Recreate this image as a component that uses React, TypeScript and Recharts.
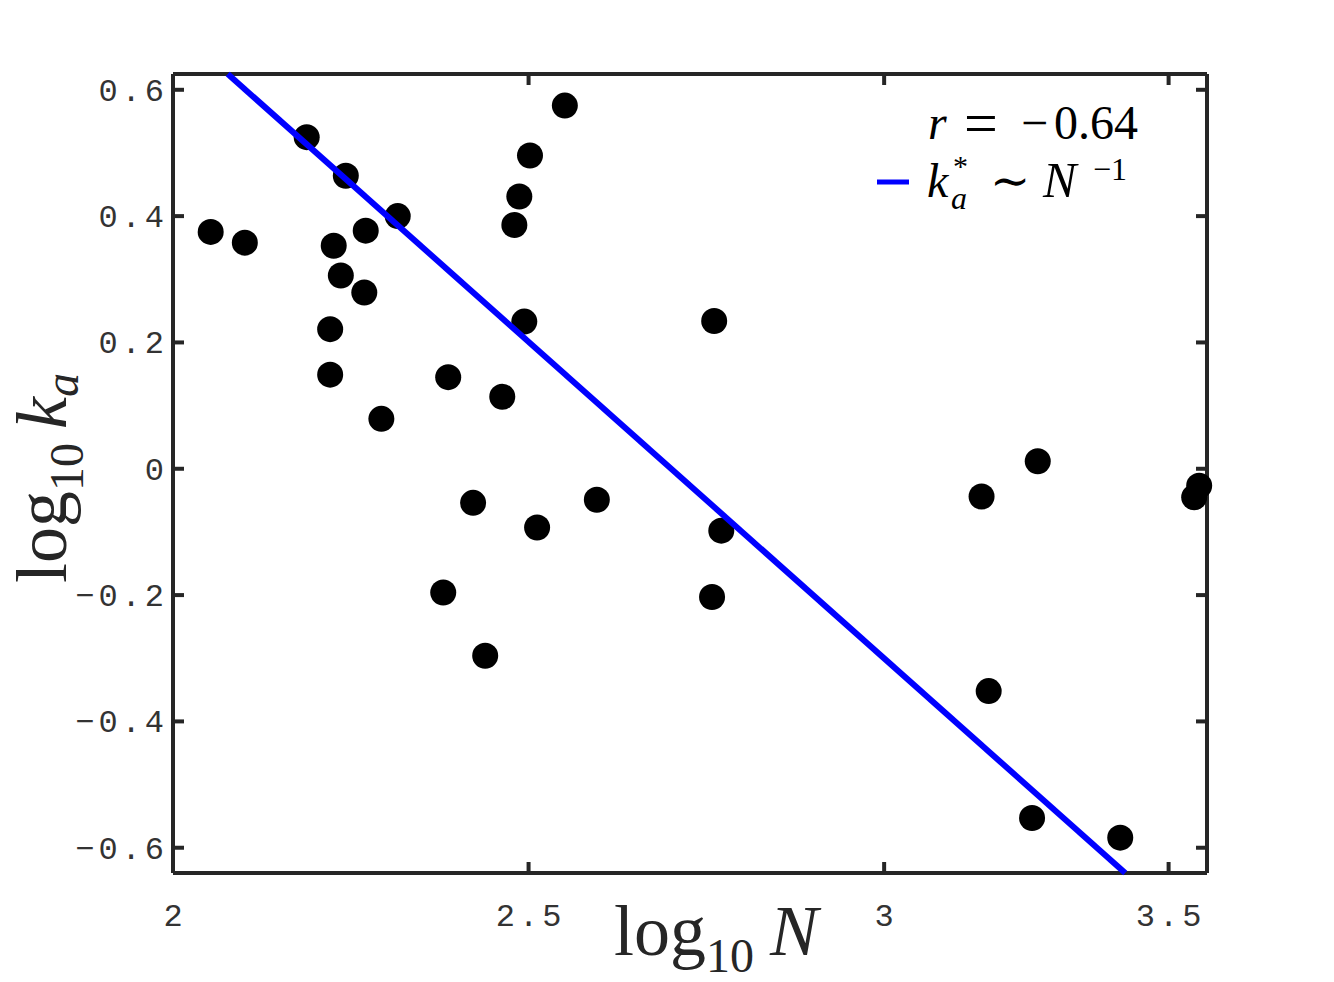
import React from 'react';
import { ScatterChart, Scatter, XAxis, YAxis } from 'recharts';

const logN = [
  2.053, 2.101, 2.188, 2.243, 2.316, 2.271, 2.226, 2.236, 2.269, 2.221, 2.221, 2.293,
  2.387, 2.380, 2.422, 2.439, 2.463, 2.480, 2.487, 2.502, 2.494, 2.512, 2.551, 2.596,
  2.761, 2.758, 2.771, 3.137, 3.147, 3.216, 3.208, 3.332, 3.436, 3.443,
];
const logKa = [
  0.375, 0.358, 0.525, 0.464, 0.400, 0.377, 0.353, 0.306, 0.279, 0.221, 0.149, 0.079,
  0.145, -0.196, -0.054, -0.296, 0.114, 0.386, 0.431, 0.496, 0.233, -0.093, 0.575, -0.049,
  0.234, -0.203, -0.098, -0.044, -0.352, 0.012, -0.553, -0.584, -0.045, -0.027,
];
const fitN = [2.077, 3.339];
const fitKa = [0.625, -0.64];

const xTickValues = [2, 2.5, 3, 3.4];
const xTickLabels = ['2', '2.5', '3', '3.5'];
const yTickValues = [-0.6, -0.4, -0.2, 0, 0.2, 0.4, 0.6];
const yTickLabels = ['\u22120.6', '\u22120.4', '\u22120.2', '0', '0.2', '0.4', '0.6'];

const xDomain = [2, 3.454];
const yDomain = [-0.64, 0.625];

const points = logN.map((x, i) => ({ x, y: logKa[i] }));
const fitLine = fitN.map((x, i) => ({ x, y: fitKa[i] }));

const AX = '#262626';
const TICK_FONT = "'Liberation Mono', monospace";
const SERIF = "'Liberation Serif', 'DejaVu Serif', serif";

const BottomTick = (p: any) => {
  const { x, y, payload } = p;
  const idx = xTickValues.indexOf(payload.value);
  return (
    <g>
      <line x1={x} x2={x} y1={y} y2={y - 11} stroke={AX} strokeWidth={4} />
      <text x={x + 2} y={y + 53} textAnchor="middle" fontFamily={TICK_FONT} fontSize={32}
        letterSpacing={4} fill="#333">{xTickLabels[idx]}</text>
    </g>
  );
};
const TopTick = (p: any) => {
  const { x, y } = p;
  return <line x1={x} x2={x} y1={y} y2={y + 11} stroke={AX} strokeWidth={4} />;
};
const LeftTick = (p: any) => {
  const { x, y, payload } = p;
  const idx = yTickValues.findIndex((v) => Math.abs(v - payload.value) < 1e-9);
  return (
    <g>
      <line x1={x} x2={x + 11} y1={y} y2={y} stroke={AX} strokeWidth={4} />
      <text x={x - 5} y={y + 11} textAnchor="end" fontFamily={TICK_FONT} fontSize={32}
        letterSpacing={4} fill="#333">{yTickLabels[idx]}</text>
    </g>
  );
};
const RightTick = (p: any) => {
  const { x, y } = p;
  return <line x1={x} x2={x - 11} y1={y} y2={y} stroke={AX} strokeWidth={4} />;
};

export default function App() {
  return (
    <div style={{ position: 'absolute', left: 0, top: 0, width: 1334, height: 982, background: '#fff' }}>
      <ScatterChart width={1334} height={982} margin={{ top: 73, right: 126, bottom: 0, left: 0 }}>
        <XAxis xAxisId="b" orientation="bottom" dataKey="x" type="number" domain={xDomain} ticks={xTickValues}
          height={109} tickSize={0} tickMargin={0} tickLine={false}
          axisLine={{ stroke: AX, strokeWidth: 4 }} tick={<BottomTick />} interval={0} />
        <XAxis xAxisId="t" orientation="top" dataKey="x" type="number" domain={xDomain}
          ticks={xTickValues} height={1} tickSize={0} tickMargin={0}
          tickLine={false} axisLine={{ stroke: AX, strokeWidth: 4 }} tick={<TopTick />} interval={0} />
        <YAxis yAxisId="l" orientation="left" dataKey="y" type="number" domain={yDomain} ticks={yTickValues}
          width={173} tickSize={0} tickMargin={0} tickLine={false}
          axisLine={{ stroke: AX, strokeWidth: 4 }} tick={<LeftTick />} interval={0} />
        <YAxis yAxisId="r" orientation="right" dataKey="y" type="number" domain={yDomain}
          ticks={yTickValues} width={1} tickSize={0} tickMargin={0}
          tickLine={false} axisLine={{ stroke: AX, strokeWidth: 4 }} tick={<RightTick />} interval={0} />
        <Scatter xAxisId="t" yAxisId="r" data={points} isAnimationActive={false}
          fill="none" shape={(p: any) => <circle cx={p.cx} cy={p.cy} r={0} fill="none" />} />
        <Scatter xAxisId="b" yAxisId="l" data={points} isAnimationActive={false}
          shape={(p: any) => <circle cx={p.cx} cy={p.cy} r={13} fill="#000" />} />
        <Scatter xAxisId="b" yAxisId="l" data={fitLine} isAnimationActive={false}
          line={{ stroke: '#0000ff', strokeWidth: 6 }} lineType="joint"
          shape={() => <g />} />
      </ScatterChart>
      <svg width={1334} height={982} style={{ position: 'absolute', left: 0, top: 0, pointerEvents: 'none' }}>
        <text x={614} y={955} fontFamily={SERIF} fontSize={72} fill={AX}>
          <tspan>log</tspan>
          <tspan fontSize={48} dy={17}>10</tspan>
          <tspan dy={-17} dx={16} fontStyle="italic">N</tspan>
        </text>
        <g transform="translate(66,583) rotate(-90)">
          <text x={0} y={0} fontFamily={SERIF} fontSize={72} fill={AX}>
            <tspan>log</tspan>
            <tspan fontSize={48} dy={17}>10</tspan>
            <tspan dy={-17} dx={14} fontStyle="italic">k</tspan>
            <tspan fontSize={48} dy={12} fontStyle="italic">a</tspan>
          </text>
        </g>
        <text y={139} fontFamily={SERIF} fontSize={48} fill="#000">
          <tspan x={928} fontStyle="italic">r</tspan>
          <tspan x={964} y={143} fontSize={60}>=</tspan>
          <tspan x={1021} y={139}>{'\u2212'}</tspan>
          <tspan x={1054}>0.64</tspan>
        </text>
        <line x1={877} x2={909} y1={182} y2={182} stroke="#0000ff" strokeWidth={5} />
        <text y={197} fontFamily={SERIF} fontSize={48} fill="#000">
          <tspan x={927} fontStyle="italic">k</tspan>
          <tspan x={953} y={176} fontSize={30}>*</tspan>
        </text>
        <text y={209} fontFamily={SERIF} fontSize={32} fill="#000">
          <tspan x={951} fontStyle="italic">a</tspan>
        </text>
        <text y={197} fontFamily={SERIF} fontSize={48} fill="#000">
          <tspan x={990}>∼</tspan>
          <tspan x={1043} fontStyle="italic" fontSize={50}>N</tspan>
          <tspan x={1093} y={180} fontSize={32}>{'\u22121'}</tspan>
        </text>
      </svg>
    </div>
  );
}
